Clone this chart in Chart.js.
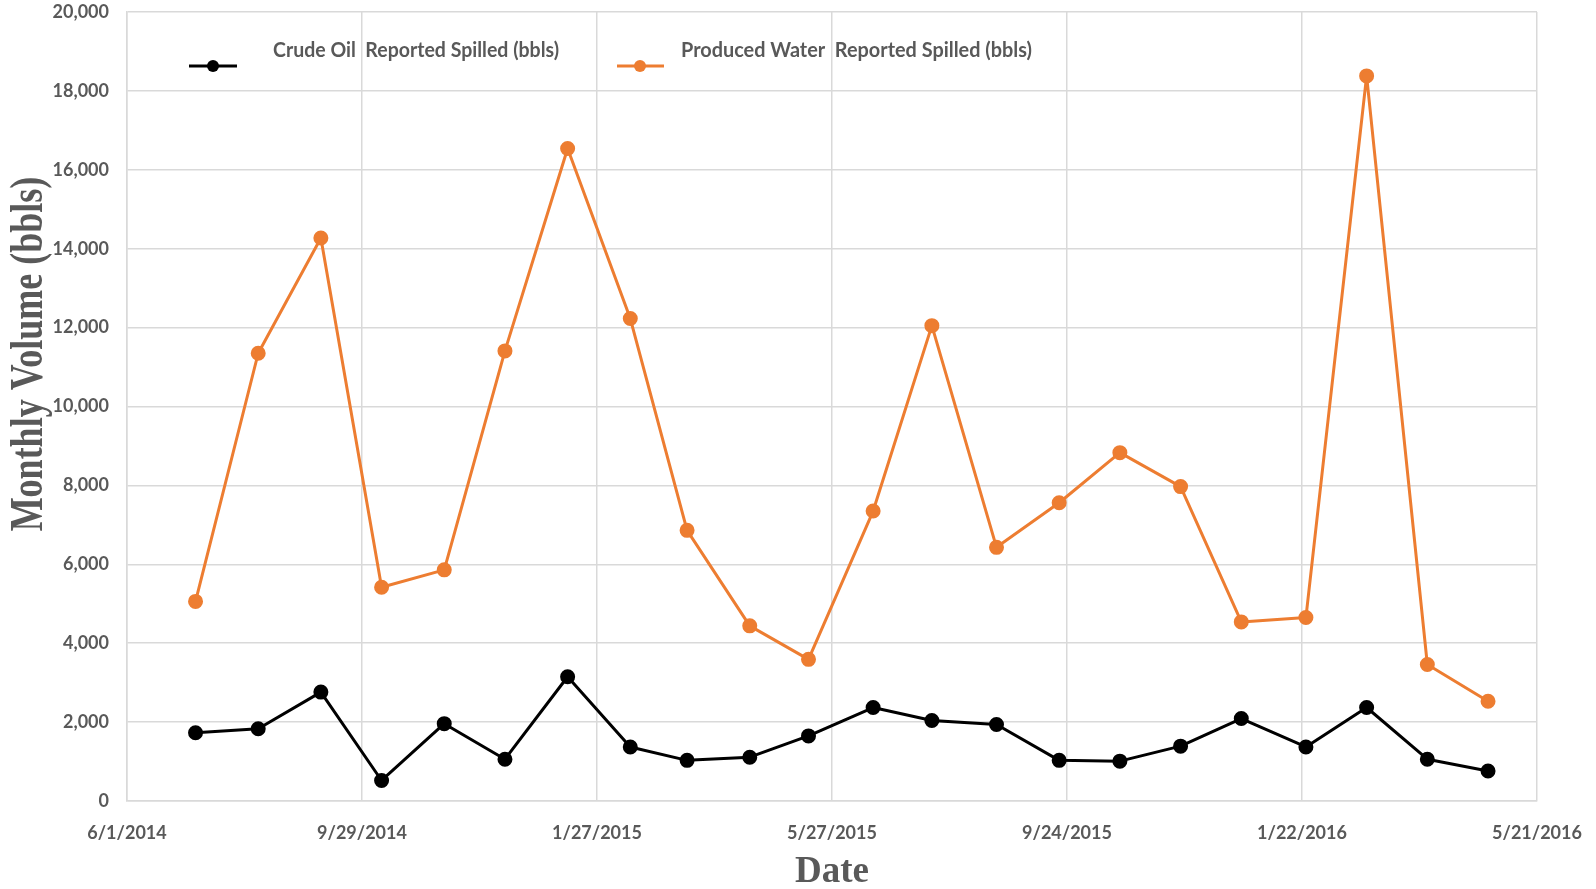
<!DOCTYPE html>
<html>
<head>
<meta charset="utf-8">
<script src="https://cdn.jsdelivr.net/npm/chart.js@4.4.0/dist/chart.umd.min.js"></script>
<style>
  body { margin: 0; background: #fff; }
  #wrap { width: 1596px; height: 889px; }
</style>
</head>
<body>
<div id="wrap"><canvas id="spillChart" width="1596" height="889"></canvas></div>
<script>
// Monthly spill volumes (bbls)
const dates = ['2014-07-06', '2014-08-07', '2014-09-08', '2014-10-09', '2014-11-10', '2014-12-11',
  '2015-01-12', '2015-02-13', '2015-03-14', '2015-04-15', '2015-05-15', '2015-06-17', '2015-07-17',
  '2015-08-19', '2015-09-20', '2015-10-21', '2015-11-21', '2015-12-22', '2016-01-24', '2016-02-24',
  '2016-03-26', '2016-04-26'];
const crudeOil = [1730, 1830, 2760, 520, 1960, 1060, 3150, 1370, 1030, 1110, 1650, 2370, 2040,
  1940, 1030, 1010, 1390, 2090, 1370, 2370, 1060, 760];
const producedWater = [5060, 11350, 14270, 5420, 5860, 11410, 16540, 12230, 6860, 4440, 3590, 7350,
  12050, 6430, 7560, 8830, 7970, 4540, 4650, 18380, 3460, 2530];
const seriesNames = ['Crude Oil  Reported Spilled (bbls)', 'Produced Water  Reported Spilled (bbls)'];
const axisStart = '2014-06-01';
const axisDays = 720, dayStep = 120;
const yMax = 20000, yStep = 2000;

const DAY = 864e5;
const t0 = Date.parse(axisStart + 'T00:00:00Z');
const toDays = s => (Date.parse(s + 'T00:00:00Z') - t0) / DAY;
const fmtDate = d => {
  const dt = new Date(t0 + d * DAY);
  return (dt.getUTCMonth() + 1) + '/' + dt.getUTCDate() + '/' + dt.getUTCFullYear();
};

const grey = '#595959';
const gridCol = '#d9d9d9';
const orange = '#ED7D31';

// legend + axis titles drawn by hand to sit where the reference has them
const decor = {
  id: 'decor',
  afterDraw(chart) {
    const ctx = chart.ctx;
    ctx.save();
    const items = [
      { color: '#000', x0: 189, x1: 237, mx: 213, tx: 273, w: 286 },
      { color: orange, x0: 617, x1: 664, mx: 640, tx: 681, w: 351 }
    ];
    items.forEach((it, i) => {
      ctx.strokeStyle = it.color;
      ctx.lineWidth = 3;
      ctx.beginPath();
      ctx.moveTo(it.x0, 66); ctx.lineTo(it.x1, 66);
      ctx.stroke();
      ctx.fillStyle = it.color;
      ctx.beginPath();
      ctx.arc(it.mx, 66, 6, 0, Math.PI * 2);
      ctx.fill();
      ctx.fillStyle = grey;
      ctx.font = 'bold 20px Lato';
      ctx.textBaseline = 'middle';
      ctx.textAlign = 'left';
      ctx.fillText(seriesNames[i], it.tx, 51, it.w);
    });

    ctx.fillStyle = grey;
    ctx.font = 'bold 37px "Liberation Serif"';
    ctx.textAlign = 'center';
    ctx.textBaseline = 'middle';
    ctx.fillText('Date', 832, 872);

    ctx.translate(30, 354);
    ctx.rotate(-Math.PI / 2);
    ctx.scale(1, 1.3);
    ctx.font = 'bold 36px "Liberation Serif"';
    ctx.fillText('Monthly Volume (bbls)', 0, 0);
    ctx.restore();
  }
};

new Chart(document.getElementById('spillChart'), {
  type: 'line',
  data: {
    datasets: [{
      label: seriesNames[0],
      data: dates.map((d, i) => ({ x: toDays(d), y: crudeOil[i] })),
      borderColor: '#000',
      backgroundColor: '#000',
      borderWidth: 3,
      borderJoinStyle: 'round',
      pointRadius: 6,
      pointHoverRadius: 6
    }, {
      label: seriesNames[1],
      data: dates.map((d, i) => ({ x: toDays(d), y: producedWater[i] })),
      borderColor: orange,
      backgroundColor: orange,
      borderWidth: 3,
      borderJoinStyle: 'round',
      pointRadius: 6,
      pointHoverRadius: 6
    }]
  },
  options: {
    responsive: false,
    animation: false,
    devicePixelRatio: 1,
    layout: { padding: { top: 12, right: 59, left: 0, bottom: 0 } },
    plugins: { legend: { display: false }, tooltip: { enabled: false } },
    scales: {
      x: {
        type: 'linear',
        min: 0,
        max: axisDays,
        afterFit: s => { s.height = 88; s.paddingLeft = 0; s.paddingRight = 0; },
        grid: { color: gridCol, lineWidth: 1.5, drawTicks: false },
        border: { color: gridCol, width: 1.5 },
        ticks: {
          stepSize: dayStep,
          padding: 21,
          color: grey,
          font: { family: 'Lato', size: 18, weight: 'bold' },
          maxRotation: 0,
          callback: v => fmtDate(v)
        }
      },
      y: {
        min: 0,
        max: yMax,
        afterFit: s => { s.width = 127; s.paddingTop = 0; s.paddingBottom = 0; },
        grid: { color: gridCol, lineWidth: 1.5, drawTicks: false },
        border: { color: gridCol, width: 1.5 },
        ticks: {
          stepSize: yStep,
          padding: 18,
          color: grey,
          font: { family: 'Lato', size: 18, weight: 'bold' },
          callback: v => v.toLocaleString('en-US')
        }
      }
    }
  },
  plugins: [decor]
});
</script>
</body>
</html>
